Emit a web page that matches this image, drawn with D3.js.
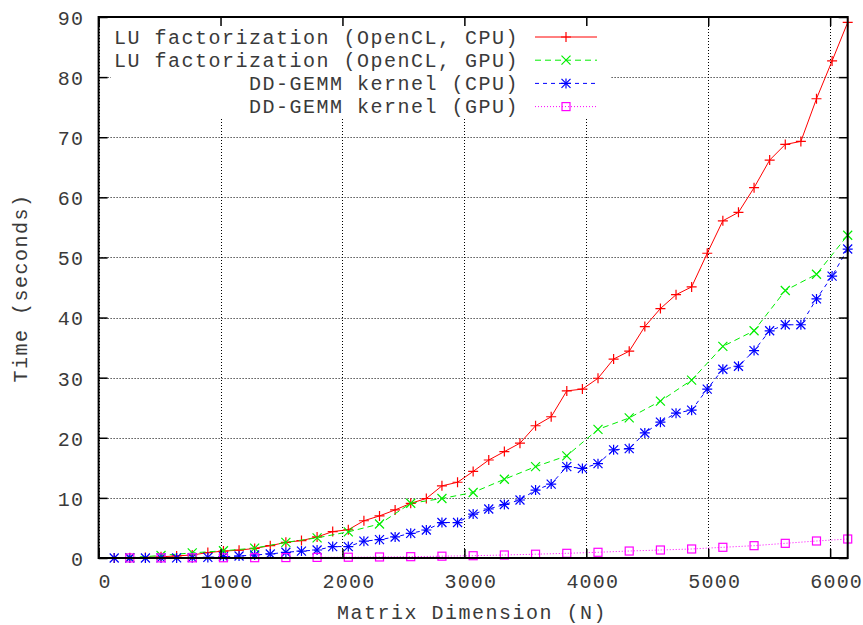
<!DOCTYPE html>
<html>
<head>
<meta charset="utf-8">
<script src="https://cdn.jsdelivr.net/npm/d3@7"></script>
<style>
  html, body { margin: 0; padding: 0; background: #fff; }
  svg { display: block; }
  text { font-family: "Liberation Mono", "DejaVu Sans Mono", monospace; font-size: 20px; letter-spacing: 1.5px; fill: #3a3a3a; }
  .tick text { letter-spacing: 1.2px; }
</style>
</head>
<body>
<svg id="chart" width="863" height="625"></svg>
<script>
// Matrix sizes: CPU runs every 128, GPU runs every 256
const nCpu = d3.range(128, 6145, 128);
const nGpu = d3.range(256, 6145, 256);

const luCpu = [
  0.0, 0.05, 0.1, 0.2, 0.35, 0.5, 0.9, 1.15, 1.3, 1.6,
  2.05, 2.6, 2.9, 3.5, 4.4, 4.7, 6.2, 7.0, 8.0, 9.1,
  9.9, 12.0, 12.6, 14.4, 16.3, 17.7, 19.1, 22.0, 23.5, 27.8,
  28.1, 29.9, 33.1, 34.4, 38.5, 41.5, 43.8, 45.1, 50.7, 56.1,
  57.5, 61.6, 66.2, 68.8, 69.3, 76.4, 82.7, 89.1
];
const luGpu = [
  0.05, 0.42, 0.85, 1.2, 1.65, 2.6, 3.35, 4.35, 5.65, 9.1,
  9.9, 10.9, 13.1, 15.2, 17.0, 21.4, 23.3, 26.1, 29.6, 35.2,
  37.8, 44.5, 47.2, 53.7
];
const gemmCpu = [
  0.0, 0.0, 0.0, 0.01, 0.02, 0.05, 0.1, 0.22, 0.33, 0.5,
  0.67, 0.95, 1.15, 1.33, 1.9, 1.9, 2.8, 3.05, 3.5, 4.1,
  4.66, 5.9, 5.9, 7.3, 8.15, 8.9, 9.65, 11.3, 12.3, 15.2,
  14.9, 15.7, 18.0, 18.2, 20.8, 22.6, 24.1, 24.6, 28.1, 31.4,
  31.9, 34.5, 37.8, 38.8, 38.8, 43.1, 46.9, 51.4
];
const gemmGpu = [
  0.01, 0.02, 0.03, 0.04, 0.05, 0.07, 0.1, 0.13, 0.17, 0.22,
  0.3, 0.38, 0.5, 0.63, 0.78, 0.95, 1.16, 1.33, 1.5, 1.78,
  2.05, 2.44, 2.83, 3.16
];

const seriesNames = [
  "LU factorization (OpenCL, CPU)",
  "LU factorization (OpenCL, GPU)",
  "DD-GEMM kernel (CPU)",
  "DD-GEMM kernel (GPU)"
];
const xTicks = [0, 1000, 2000, 3000, 4000, 5000, 6000];
const yTicks = [0, 10, 20, 30, 40, 50, 60, 70, 80, 90];
const xTitle = "Matrix Dimension (N)";
const yTitle = "Time (seconds)";

const series = [
  { name: seriesNames[0], xs: nCpu, ys: luCpu,   color: "#ff0000", dash: null,  marker: "plus" },
  { name: seriesNames[1], xs: nGpu, ys: luGpu,   color: "#00ee00", dash: "6,4", marker: "cross" },
  { name: seriesNames[2], xs: nCpu, ys: gemmCpu, color: "#0000ff", dash: "4,4", marker: "star" },
  { name: seriesNames[3], xs: nGpu, ys: gemmGpu, color: "#ff00ff", dash: "1,2", marker: "square" }
];

const L = 98.6, R = 847.7, T = 17, B = 558;
const svg = d3.select("#chart");

const x = d3.scaleLinear().domain([0, 6144]).range([L, R]);
const y = d3.scaleLinear().domain([0, 90]).range([B, T]);

// Dotted grid
const grid = svg.append("g").attr("stroke", "#000").attr("stroke-width", 1)
  .attr("stroke-dasharray", "1,2").attr("fill", "none");
grid.selectAll("line.gx").data(xTicks).join("line")
  .attr("x1", d => Math.round(x(d)) + 0.5).attr("x2", d => Math.round(x(d)) + 0.5)
  .attr("y1", T).attr("y2", B);
grid.selectAll("line.gy").data(yTicks).join("line")
  .attr("y1", d => Math.round(y(d)) + 0.5).attr("y2", d => Math.round(y(d)) + 0.5)
  .attr("x1", L).attr("x2", R);

// Opaque key box
svg.append("rect").attr("x", 111).attr("y", T).attr("width", 499).attr("height", 101).attr("fill", "#fff");

function drawMarker(g, type, cx, cy, color) {
  const s = g.append("g").attr("stroke", color).attr("stroke-width", 1.2).attr("fill", "none");
  if (type === "plus" || type === "star") {
    s.append("path").attr("d", `M${cx - 5},${cy}H${cx + 5}M${cx},${cy - 5}V${cy + 5}`);
  }
  if (type === "cross" || type === "star") {
    s.append("path").attr("d", `M${cx - 4.5},${cy - 4.5}L${cx + 4.5},${cy + 4.5}M${cx - 4.5},${cy + 4.5}L${cx + 4.5},${cy - 4.5}`);
  }
  if (type === "square") {
    s.append("rect").attr("x", cx - 4).attr("y", cy - 4).attr("width", 8).attr("height", 8);
  }
}

// Series lines and markers
const line = d3.line().x(d => x(d[0])).y(d => y(d[1]));
const plot = svg.append("g");
series.forEach(s => {
  const pts = s.xs.map((n, i) => [n, s.ys[i]]);
  plot.append("path").datum(pts).attr("d", line)
    .attr("fill", "none").attr("stroke", s.color).attr("stroke-width", 1)
    .attr("stroke-dasharray", s.dash);
  const mg = plot.append("g");
  pts.forEach(p => drawMarker(mg, s.marker, x(p[0]), y(p[1]), s.color));
});

// Key
const key = svg.append("g");
series.forEach((s, i) => {
  const ky = 37 + i * 23.2;
  key.append("text").attr("x", 519).attr("y", ky + 6.5).attr("text-anchor", "end").text(s.name);
  key.append("line").attr("x1", 535).attr("x2", 597).attr("y1", ky).attr("y2", ky)
    .attr("stroke", s.color).attr("stroke-width", 1).attr("stroke-dasharray", s.dash);
  drawMarker(key, s.marker, 566, ky, s.color);
});

// Axes: inward ticks on all four sides
const axB = svg.append("g").attr("transform", `translate(0,${B})`)
  .call(d3.axisBottom(x).tickValues(xTicks).tickSize(-9).tickFormat(d3.format("d")));
const axT = svg.append("g").attr("transform", `translate(0,${T})`)
  .call(d3.axisTop(x).tickValues(xTicks).tickSize(-9).tickFormat(""));
const axL = svg.append("g").attr("transform", `translate(${L},0)`)
  .call(d3.axisLeft(y).tickValues(yTicks).tickSize(-9).tickFormat(d3.format("d")));
const axR = svg.append("g").attr("transform", `translate(${R},0)`)
  .call(d3.axisRight(y).tickValues(yTicks).tickSize(-9).tickFormat(""));
[axB, axT, axL, axR].forEach(a => {
  a.select(".domain").remove();
  a.selectAll(".tick line").attr("stroke", "#000").attr("stroke-width", 1.5);
  a.attr("font-family", null).attr("font-size", null);
});
axB.selectAll(".tick text").attr("y", 29.5).attr("dy", 0).attr("dx", 6).attr("fill", "#3a3a3a");
axL.selectAll(".tick text").attr("x", -14.5).attr("dy", "0.37em").attr("fill", "#3a3a3a");

// Border
svg.append("rect").attr("x", L).attr("y", T).attr("width", R - L).attr("height", B - T)
  .attr("fill", "none").attr("stroke", "#000").attr("stroke-width", 2);

// Axis titles
svg.append("text").attr("x", 472).attr("y", 618.5).attr("text-anchor", "middle").text(xTitle);
svg.append("text").attr("transform", "translate(27,288) rotate(-90)")
  .attr("text-anchor", "middle").text(yTitle);
</script>
</body>
</html>
